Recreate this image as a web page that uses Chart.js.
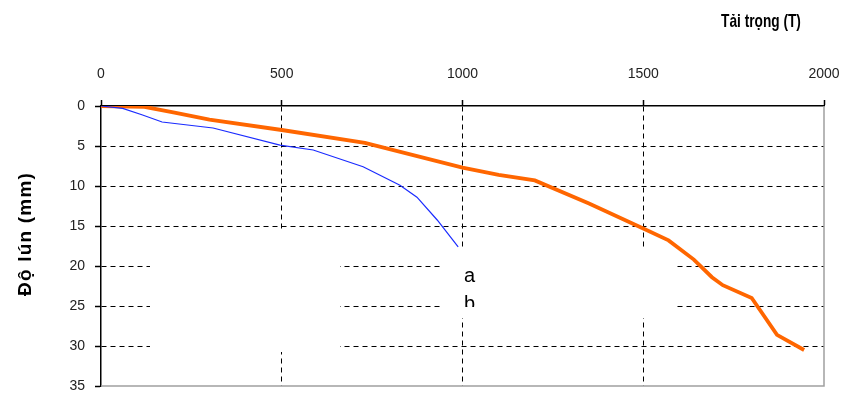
<!DOCTYPE html>
<html>
<head>
<meta charset="utf-8">
<script src="https://cdn.jsdelivr.net/npm/chart.js@4.4.0/dist/chart.umd.min.js"></script>
<style>
  html, body { margin: 0; padding: 0; background: #fff; }
  #wrap { width: 848px; height: 397px; }
</style>
</head>
<body>
<div id="wrap"><canvas id="chart" width="848" height="397"></canvas></div>
<script>
// load (T) vs settlement (mm)
let loadA = [0, 120, 200, 300, 500, 730, 1000, 1100, 1200, 1350, 1500, 1570, 1640, 1690, 1720, 1800, 1870, 1945];
let settleA = [0, 0.1, 0.8, 1.7, 3.0, 4.6, 7.7, 8.6, 9.3, 12.2, 15.3, 16.8, 19.2, 21.4, 22.4, 24.0, 28.6, 30.5];

let loadB = [0, 60, 113, 169, 310, 495, 587, 725, 827, 874, 930, 988];
let settleB = [0, 0.3, 1.1, 2.0, 2.75, 4.9, 5.5, 7.6, 9.9, 11.4, 14.25, 17.6];

let xTicks = [0, 500, 1000, 1500, 2000];
let yTicks = [0, 5, 10, 15, 20, 25, 30, 35];

let xTitle = 'Tải trọng (T)';
let yTitle = 'Độ lún (mm)';

const FONT = "'Liberation Sans', Arial, sans-serif";

function pts(xs, ys) {
    return xs.map((x, i) => ({ x: x, y: ys[i] }));
}

// white patches, labels, right/bottom frame
const extras = {
    id: 'extras',
    beforeDatasetsDraw(chart) {
        const { ctx } = chart;
        ctx.save();
        ctx.fillStyle = '#fff';
        ctx.fillRect(150, 230, 190, 122);
        ctx.fillRect(443, 248, 232, 70);
        ctx.restore();
    },
    afterDraw(chart) {
        const { ctx, chartArea: a } = chart;
        ctx.save();
        ctx.strokeStyle = '#a0a0a0';
        ctx.lineWidth = 1.5;
        ctx.beginPath();
        ctx.moveTo(a.right, a.top);
        ctx.lineTo(a.right, a.bottom);
        ctx.lineTo(a.left, a.bottom);
        ctx.stroke();

        ctx.fillStyle = '#000';
        ctx.textAlign = 'center';
        ctx.textBaseline = 'middle';

        // top title, condensed
        ctx.save();
        ctx.translate(761, 22);
        ctx.scale(0.72, 1);
        ctx.font = 'bold 19px ' + FONT;
        ctx.fillText(xTitle, 0, 0);
        ctx.restore();

        // y title, rotated
        ctx.save();
        ctx.translate(26, 234);
        ctx.rotate(-Math.PI / 2);
        ctx.font = 'bold 19px ' + FONT;
        ctx.letterSpacing = '1.2px';
        ctx.fillText(yTitle, 0, 0);
        ctx.restore();

        ctx.font = '20px ' + FONT;
        ctx.textAlign = 'left';
        ctx.fillText('a', 464, 276);
        ctx.beginPath();
        ctx.rect(440, 280, 60, 27);
        ctx.clip();
        ctx.fillText('b', 464, 304);
        ctx.restore();
    }
};

const gridColor = (ctx, max) => {
    const v = ctx.tick ? ctx.tick.value : null;
    return (v === 0 || v === max) ? 'rgba(0,0,0,0)' : '#000';
};

new Chart(document.getElementById('chart'), {
    type: 'line',
    data: {
        datasets: [
            {
                label: 'b',
                data: pts(loadB, settleB),
                borderColor: '#1a2bff',
                borderWidth: 1.2,
                pointRadius: 0,
                tension: 0,
                fill: false
            },
            {
                label: 'a',
                data: pts(loadA, settleA),
                borderColor: '#ff6600',
                borderWidth: 3.8,
                pointRadius: 0,
                tension: 0,
                fill: false
            }
        ]
    },
    options: {
        responsive: false,
        animation: false,
        layout: { padding: { left: 0, right: 24, top: 0, bottom: 11 } },
        plugins: {
            legend: { display: false },
            tooltip: { enabled: false }
        },
        scales: {
            x: {
                type: 'linear',
                position: 'top',
                min: 0,
                max: 2000,
                afterBuildTicks: (s) => { s.ticks = xTicks.map(v => ({ value: v })); },
                afterFit: (s) => { s.height = 106; s.paddingLeft = 0; s.paddingRight = 0; },
                ticks: {
                    color: '#222',
                    font: { family: FONT, size: 14 },
                    padding: 17,
                    callback: (v) => String(v)
                },
                grid: {
                    color: (c) => gridColor(c, 2000),
                    lineWidth: 1,
                    tickLength: 6,
                    tickColor: '#000',
                    tickWidth: 1.5
                },
                border: { display: true, color: '#000', width: 1.5, dash: [5, 4] }
            },
            y: {
                type: 'linear',
                reverse: true,
                min: 0,
                max: 35,
                afterBuildTicks: (s) => { s.ticks = yTicks.map(v => ({ value: v })); },
                afterFit: (s) => { s.width = 101; s.paddingTop = 0; s.paddingBottom = 0; },
                ticks: {
                    color: '#222',
                    font: { family: FONT, size: 14 },
                    padding: 10,
                    callback: (v) => String(v)
                },
                grid: {
                    color: (c) => gridColor(c, 35),
                    lineWidth: 1,
                    tickLength: 6,
                    tickColor: '#000',
                    tickWidth: 1.5
                },
                border: { display: true, color: '#000', width: 1.5, dash: [5, 4] }
            }
        }
    },
    plugins: [extras]
});
</script>
</body>
</html>
